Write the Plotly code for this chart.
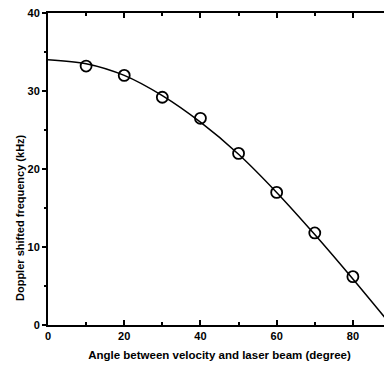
import plotly.graph_objects as go

# measured points (open markers)
angle_deg = [10, 20, 30, 40, 50, 60, 70, 80]
freq_khz = [33.2, 32.0, 29.2, 26.5, 22.0, 17.0, 11.8, 6.2]

# fitted curve
curve_angle = [0, 10, 20, 30, 40, 50, 60, 70, 80, 90]
curve_freq = [34.0, 33.5, 32.0, 29.4, 26.0, 21.9, 17.0, 11.6, 5.9, 0.0]

x_ticks = [0, 20, 40, 60, 80]
y_ticks = [0, 10, 20, 30, 40]

font_family = "Liberation Sans, Arial, sans-serif"

fig = go.Figure()
fig.add_trace(go.Scatter(
    x=curve_angle, y=curve_freq, mode="lines",
    line=dict(color="black", width=1.5, shape="spline", smoothing=0.8),
    showlegend=False, hoverinfo="skip", cliponaxis=False))
fig.add_trace(go.Scatter(
    x=angle_deg, y=freq_khz, mode="markers",
    marker=dict(symbol="circle-open", size=11, color="black",
                line=dict(color="black", width=1.8)),
    showlegend=False))
# invisible trace to carry a right-hand axis with inward ticks
fig.add_trace(go.Scatter(x=[0], y=[0], yaxis="y2", mode="markers",
                         marker=dict(opacity=0), showlegend=False,
                         hoverinfo="skip"))

tick_font = dict(size=11, family=font_family, weight="bold", color="black")

fig.update_layout(
    width=384, height=365,
    margin=dict(l=40, r=1, t=5, b=48, autoexpand=False),
    paper_bgcolor="white", plot_bgcolor="white",
    font=dict(family=font_family, color="black"),
    xaxis=dict(
        range=[0, 90], tickvals=x_ticks, ticktext=[str(v) for v in x_ticks],
        ticks="inside", ticklen=5, tickwidth=1.5, tickcolor="black",
        minor=dict(dtick=10, tick0=0, ticks="inside", ticklen=3, tickcolor="black"),
        showline=True, linecolor="black", linewidth=2, mirror="ticks",
        showgrid=False, zeroline=False, ticklabeloverflow="allow",
        tickfont=tick_font,
        title=dict(text="Angle between velocity and laser beam (degree)",
                   font=dict(size=11.5, family=font_family, weight="bold"),
                   standoff=10),
    ),
    yaxis=dict(
        range=[0, 40], tickvals=y_ticks, ticktext=[str(v) for v in y_ticks],
        ticks="outside", ticklen=4, tickwidth=1.5, tickcolor="black",
        minor=dict(dtick=5, tick0=0, ticks="outside", ticklen=2, tickcolor="black"),
        showline=True, linecolor="black", linewidth=2,
        showgrid=False, zeroline=False, ticklabeloverflow="allow",
        tickfont=tick_font,
    ),
    yaxis2=dict(
        range=[0, 40], overlaying="y", side="right", tickvals=y_ticks,
        showticklabels=False, ticks="inside", ticklen=4, tickcolor="black",
        showline=True, linecolor="black", linewidth=1,
        showgrid=False, zeroline=False,
    ),
    annotations=[dict(
        text="Doppler shifted frequency (kHz)", textangle=-90,
        xref="paper", yref="paper", x=0, y=0.343, xshift=-28,
        showarrow=False, xanchor="center", yanchor="middle",
        font=dict(size=11, family=font_family, weight="bold", color="black"),
    )],
)

fig.write_html("out.html")
